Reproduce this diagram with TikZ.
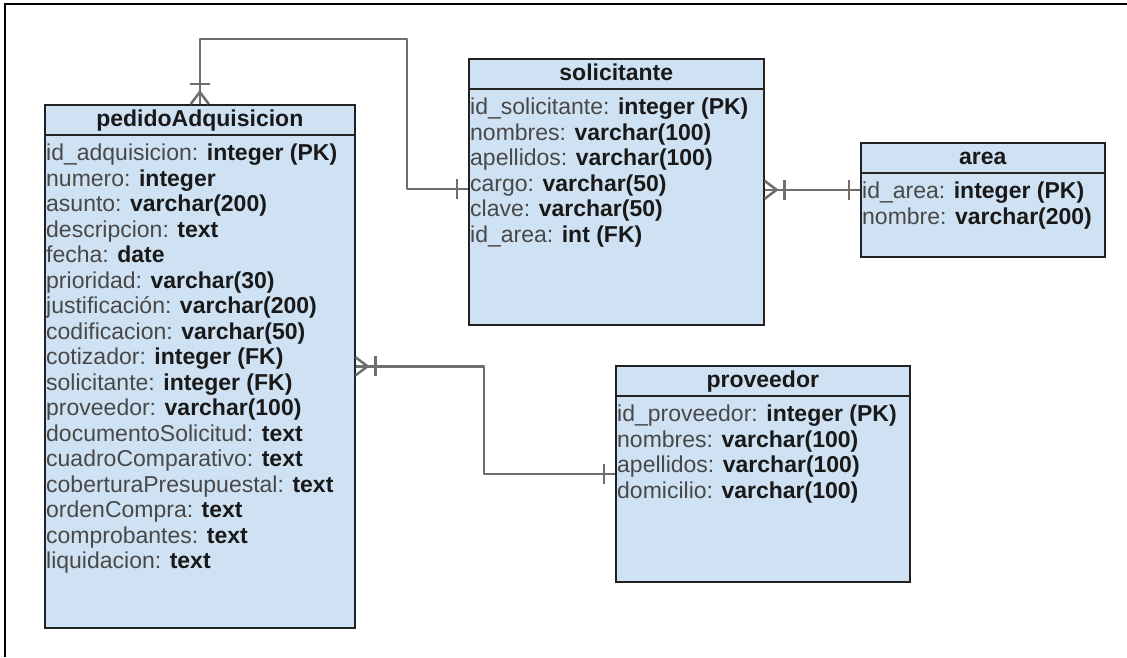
\documentclass[tikz,border=0pt]{standalone}
\usepackage{fontspec}
\setmainfont{Liberation Sans}
\usepackage {tikz}
\usetikzlibrary{positioning}
\definecolor{tabfill}{RGB}{207,226,243}
\definecolor{tabline}{RGB}{34,34,34}
\definecolor{relline}{RGB}{110,110,110}
\definecolor{fldgray}{RGB}{72,72,72}
\definecolor{typeblk}{RGB}{25,25,25}
\newcommand{\fld}[2]{{\color{fldgray}#1:} \textbf{#2}}
\tikzset{
	pics/muchos/.style={code={
		\draw[conn] (0,-9) -- (12,0) -- (0,9);
		\draw[conn] (20,-10) -- (20,10);
	}},
	pics/uno/.style={code={
		\draw[conn] (11,-10) -- (11,10);
	}}
}

\begin{document}
\begin{tikzpicture}[x=1pt,y=-1pt,
	tabla/.style={draw=tabline,line width=1.6pt,fill=tabfill,anchor=north west,inner sep=0pt},
	titulo/.style={font=\bfseries\fontsize{23}{25.5}\selectfont,text=typeblk,anchor=base,inner sep=0pt},
	campo/.style={font=\fontsize{23}{25.5}\selectfont,text=typeblk,anchor=base west,inner sep=0pt},
	conn/.style={draw=relline,line width=2.5pt,line join=round}]
	\useasboundingbox (0,0) rectangle (1127,657);
	\draw[line width=2pt] (5,657) -- (5,4) -- (1127,4);
	
	% tablas
	\node[tabla,minimum width=310pt,minimum height=523pt] (pedido) at (44,104) {};
	\node[tabla,minimum width=295pt,minimum height=266pt] (sol) at (468,58) {};
	\node[tabla,minimum width=244pt,minimum height=114pt] (area) at (860,142) {};
	\node[tabla,minimum width=294pt,minimum height=216pt] (prov) at (615,365) {};
	\foreach \t in {pedido,sol,area,prov}
		\draw[tabline,line width=1.6pt] ([yshift=-31pt]\t.north west) -- ([yshift=-31pt]\t.north east);
	
	\node[titulo] (pedido-t) at ([yshift=-22pt]pedido.north) {pedidoAdquisicion};
	\node[titulo] (sol-t) at ([yshift=-22pt]sol.north) {solicitante};
	\node[titulo] (area-t) at ([yshift=-22pt]area.north) {area};
	\node[titulo] (prov-t) at ([yshift=-22pt]prov.north) {proveedor};
	
	\foreach \f [count=\i from 0] in {\fld{id\_adquisicion}{integer (PK)}, \fld{numero}{integer}, \fld{asunto}{varchar(200)}, \fld{descripcion}{text}, \fld{fecha}{date}, \fld{prioridad}{varchar(30)}, \fld{justificación}{varchar(200)}, \fld{codificacion}{varchar(50)}, \fld{cotizador}{integer (FK)}, \fld{solicitante}{integer (FK)}, \fld{proveedor}{varchar(100)}, \fld{documentoSolicitud}{text}, \fld{cuadroComparativo}{text}, \fld{coberturaPresupuestal}{text}, \fld{ordenCompra}{text}, \fld{comprobantes}{text}, \fld{liquidacion}{text}}
		\node[campo] (pedido-\i) at ([xshift=2pt,yshift={-(56.5+25.5*\i)*1pt}]pedido.north west) {\f};
	\foreach \f [count=\i from 0] in {\fld{id\_solicitante}{integer (PK)}, \fld{nombres}{varchar(100)}, \fld{apellidos}{varchar(100)}, \fld{cargo}{varchar(50)}, \fld{clave}{varchar(50)}, \fld{id\_area}{int (FK)}}
		\node[campo] (sol-\i) at ([xshift=2pt,yshift={-(56.5+25.5*\i)*1pt}]sol.north west) {\f};
	\foreach \f [count=\i from 0] in {\fld{id\_area}{integer (PK)}, \fld{nombre}{varchar(200)}}
		\node[campo] (area-\i) at ([xshift=2pt,yshift={-(56.5+25.5*\i)*1pt}]area.north west) {\f};
	\foreach \f [count=\i from 0] in {\fld{id\_proveedor}{integer (PK)}, \fld{nombres}{varchar(100)}, \fld{apellidos}{varchar(100)}, \fld{domicilio}{varchar(100)}}
		\node[campo] (prov-\i) at ([xshift=2pt,yshift={-(56.5+25.5*\i)*1pt}]prov.north west) {\f};
	
	% relaciones
	\draw[conn] (pedido.north) |- (407,39) |- ([yshift=3pt]sol.west);
	\pic[rotate=90] at (pedido.north) {muchos};
	\pic[rotate=180] at ([yshift=3pt]sol.west) {uno};
	
	\draw[conn] ([yshift=2pt]sol.east) -- ([yshift=2pt]sol.east -| area.west);
	\pic at ([yshift=2pt]sol.east) {muchos};
	\pic[rotate=180] at ([yshift=2pt]sol.east -| area.west) {uno};
	
	\draw[conn] (pedido.east) -| (484,420) |- (prov.west);
	\pic at (pedido.east) {muchos};
	\pic[rotate=180] at (prov.west) {uno};
\end{tikzpicture}
\end{document}
